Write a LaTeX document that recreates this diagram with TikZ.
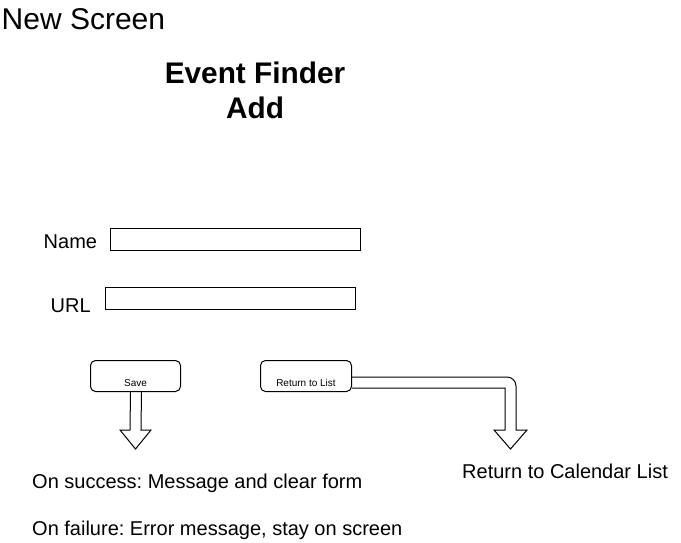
\documentclass[tikz,border=0pt]{standalone}
\usepackage{fontspec}
\setmainfont{Liberation Sans}
\usetikzlibrary{calc}
\frenchspacing
\begin{document}
\begin{tikzpicture}[x=1pt,y=-1pt,
  txt/.style={inner sep=0pt, anchor=base west, font=\fontsize{20}{24}\selectfont},
  field/.style={draw, line width=1pt, minimum width=250pt, minimum height=22pt, inner sep=0pt, anchor=north west},
  button/.style={draw, line width=1pt, rounded corners=5pt, minimum width=90pt, minimum height=31pt, inner sep=0pt, anchor=north west, font=\fontsize{10}{12}\selectfont, text height=21pt, text depth=0.6pt},
  blockarrow/.style={draw, line width=1pt, line join=miter}
]
\useasboundingbox (0,0) rectangle (681,542);
\node[txt, font=\fontsize{30}{34}\selectfont] (screen) at (1.5,29) {New Screen};
\node[inner sep=0pt, anchor=base, font=\bfseries\fontsize{29.8}{35}\selectfont] (title1) at (255,83) {Event Finder};
\node[inner sep=0pt, anchor=base, font=\bfseries\fontsize{29.8}{35}\selectfont] (title2) at (255,118) {Add};
\node[txt] (namelbl) at (43.5,248.5) {Name};
\node[field] (namebox) at (110,228) {};
\node[txt] (urllbl) at (50.5,312) {URL};
\node[field] (urlbox) at (105,287) {};
\node[button] (save) at (90,360) {Save};
\node[button, minimum width=91pt] (ret) at (260,360) {Return to List};
\node[txt] (success) at (32,488.5) {On success: Message and clear form};
\node[txt] (failure) at (32,535) {On failure: Error message, stay on screen};
\node[txt] (retcal) at (462,478) {Return to Calendar List};
\coordinate (stip) at (135.5,449);
\coordinate (rtip) at (510.5,449);
% Save block arrow
\draw[blockarrow] ($(save.south)+(-5,0)$) -- ($(stip)+(-5.5,-19)$) -- ($(stip)+(-15.5,-19)$) -- (stip) -- ($(stip)+(15.5,-19)$) -- ($(stip)+(5.5,-19)$) -- ($(save.south)+(6,0)$);
% Return block arrow
\draw[blockarrow] ($(ret.north east)+(0,17)$) [rounded corners=9pt] -- ($(rtip)+(5.5,-72)$) [sharp corners] -- ($(rtip)+(5.5,-19)$) -- ($(rtip)+(16.5,-19)$) -- (rtip) -- ($(rtip)+(-16.5,-19)$) -- ($(rtip)+(-5.5,-19)$) -- ($(rtip)+(-5.5,-61)$) -- ($(ret.north east)+(0,28)$);
\end{tikzpicture}
\end{document}
